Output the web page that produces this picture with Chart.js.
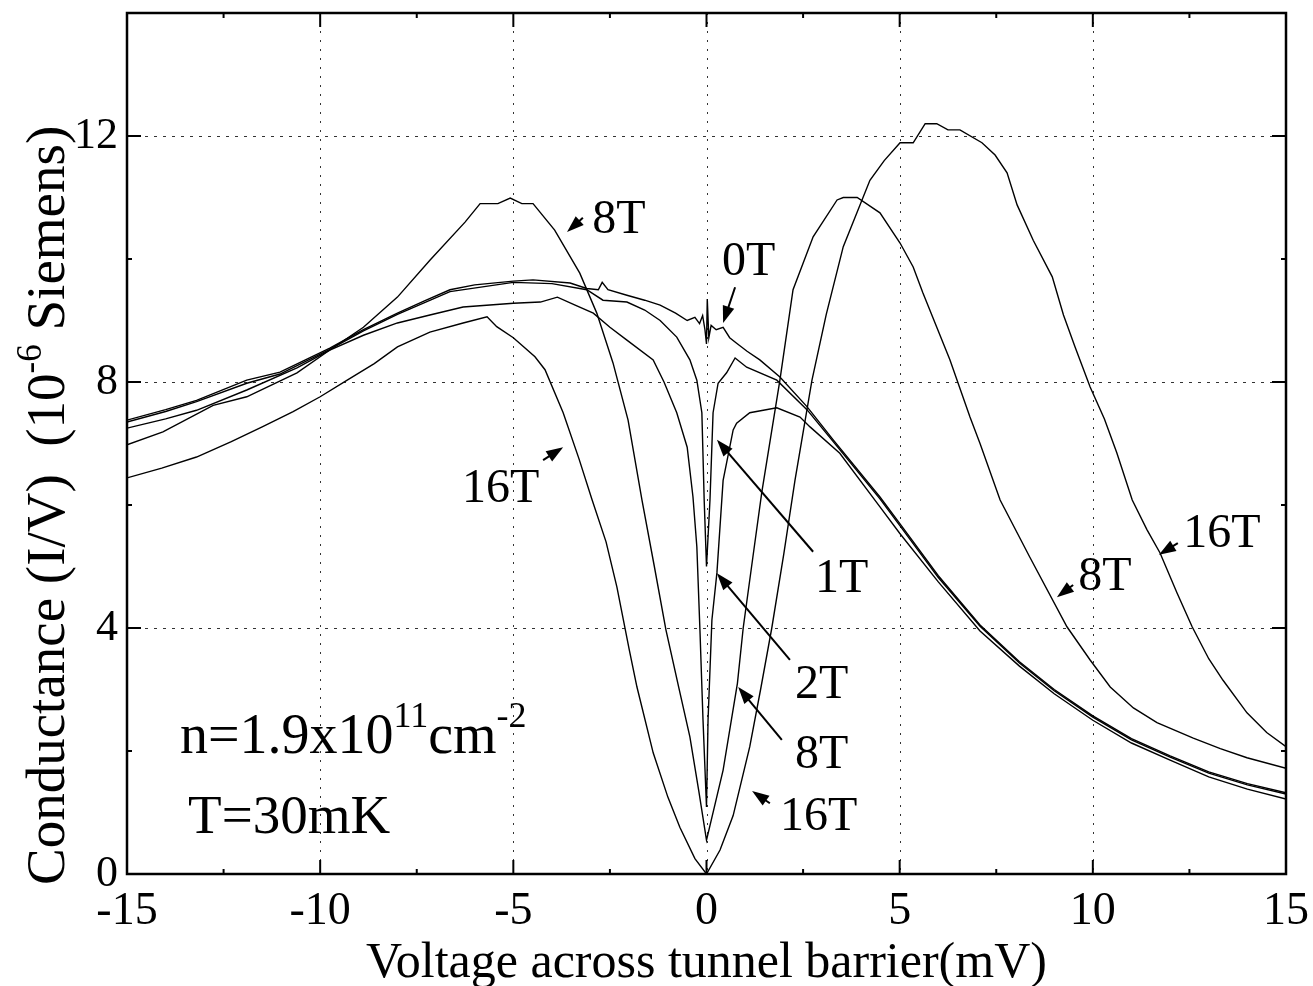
<!DOCTYPE html>
<html>
<head>
<meta charset="utf-8">
<script src="https://cdn.jsdelivr.net/npm/chart.js@4.4.1/dist/chart.umd.min.js"></script>
<style>
  html, body { margin: 0; padding: 0; background: #fff; }
  #wrap { width: 1313px; height: 986px; }
</style>
</head>
<body>
<div id="wrap"><canvas id="chart"></canvas></div>
<script>
// values: bias (mV) and conductance (1e-6 S)
var v0T = [-15, -14.0, -13.2, -11.9, -11.04, -9.75, -8.88, -8.0, -7.3, -6.64, -6.0, -5.0, -4.49, -3.53, -3.1,
  -2.8, -2.7, -2.55, -2.06, -1.6, -1.2, -0.8, -0.5, -0.3, -0.18, -0.1, -0.04, 0, 0.02, 0.06,
  0.12, 0.25, 0.43, 0.6, 0.78, 1.05, 1.38, 1.9, 2.6, 3.28, 4.49, 5.0, 6.0, 7.08, 8.1,
  9.0, 10.0, 11.0, 12.0, 13.0, 14.0, 15];
var g0T = [7.38, 7.55, 7.7, 8.03, 8.16, 8.55, 8.85, 9.12, 9.32, 9.5, 9.58, 9.64, 9.66, 9.61, 9.52,
  9.5, 9.62, 9.5, 9.41, 9.33, 9.25, 9.12, 9.0, 9.05, 8.95, 9.08, 8.85, 8.62, 9.35, 8.72,
  8.92, 8.85, 8.89, 8.72, 8.63, 8.5, 8.36, 8.08, 7.6, 7.06, 6.13, 5.7, 4.85, 4.05, 3.45,
  3.0, 2.57, 2.2, 1.92, 1.66, 1.47, 1.32];

var v1T = [-15, -14.0, -13.2, -11.9, -11.04, -9.75, -8.88, -8.0, -6.64, -5.0, -4.0, -3.1, -2.68, -2.06, -1.6,
  -1.2, -0.77, -0.43, -0.25, -0.12, -0.06, 0, 0.09, 0.17, 0.3, 0.52, 0.74, 1.04, 1.82, 2.6,
  3.28, 4.49, 5.0, 6.0, 7.08, 8.1, 9.0, 10.0, 11.0, 12.0, 13.0, 14.0, 15];
var g1T = [7.35, 7.52, 7.68, 7.98, 8.13, 8.53, 8.83, 9.1, 9.47, 9.62, 9.6, 9.5, 9.33, 9.3, 9.17,
  9.0, 8.73, 8.36, 8.03, 7.5, 6.08, 5.0, 6.08, 7.5, 7.98, 8.15, 8.39, 8.24, 8.03, 7.55,
  7.03, 6.1, 5.67, 4.82, 4.03, 3.43, 2.98, 2.55, 2.18, 1.9, 1.64, 1.45, 1.3];

var v2T = [-15, -14.0, -13.2, -11.9, -10.6, -9.75, -8.88, -8.0, -7.16, -6.3, -5.0, -4.3, -3.86, -3.4, -2.93,
  -2.5, -2.06, -1.38, -1.1, -0.77, -0.5, -0.35, -0.25, -0.17, -0.09, 0, 0.04, 0.14, 0.27, 0.43,
  0.69, 0.78, 1.12, 1.82, 2.42, 2.68, 3.45, 4.49, 5.0, 6.0, 7.08, 8.1, 9.0, 10.0, 11.0,
  12.0, 13.0, 14.0, 15];
var g2T = [7.25, 7.4, 7.54, 7.87, 8.23, 8.52, 8.76, 8.96, 9.09, 9.22, 9.28, 9.3, 9.38, 9.25, 9.12,
  8.89, 8.68, 8.36, 8.0, 7.5, 6.94, 6.13, 5.32, 3.97, 2.5, 1.09, 2.5, 4.13, 4.9, 6.4,
  7.22, 7.33, 7.5, 7.58, 7.43, 7.27, 6.84, 5.97, 5.54, 4.75, 3.95, 3.38, 2.93, 2.5, 2.13,
  1.85, 1.58, 1.38, 1.22];

var v8T = [-15, -14.07, -12.77, -11.9, -10.6, -9.75, -8.88, -8.0, -7.16, -6.25, -5.86, -5.4, -5.08, -4.78, -4.49,
  -3.93, -3.28, -2.84, -2.42, -2.03, -1.67, -1.35, -1.05, -0.72, -0.43, -0.2, 0, 0.2, 0.43, 0.8,
  0.95, 1.2, 1.43, 1.9, 2.24, 2.76, 3.38, 3.54, 3.9, 4.49, 5.01, 5.35, 5.6, 6.3, 6.82,
  7.08, 7.6, 8.37, 9.33, 9.93, 10.45, 11.05, 11.66, 12.6, 13.3, 13.99, 15];
var g8T = [6.98, 7.19, 7.62, 7.76, 8.15, 8.52, 8.89, 9.38, 9.98, 10.6, 10.9, 10.9, 10.99, 10.9, 10.9,
  10.47, 9.77, 9.12, 8.31, 7.38, 6.08, 5.0, 3.97, 3.04, 2.23, 1.35, 0.55, 1.08, 1.69, 3.1,
  4.0, 5.15, 6.2, 8.03, 9.5, 10.36, 10.96, 11.0, 11.0, 10.75, 10.26, 9.87, 9.45, 8.36, 7.43,
  7.0, 6.08, 5.15, 4.02, 3.48, 3.04, 2.7, 2.46, 2.21, 2.04, 1.89, 1.72];

var v16T = [-15, -14.1, -13.2, -12.3, -11.5, -10.7, -10.0, -9.3, -8.6, -8.0, -7.16, -6.3, -5.68, -5.43, -5.0,
  -4.44, -4.18, -3.71, -3.3, -2.96, -2.6, -2.32, -2.0, -1.8, -1.38, -1.0, -0.69, -0.3, 0, 0.35,
  0.69, 1.12, 1.4, 1.69, 2.0, 2.29, 2.73, 3.1, 3.54, 4.23, 4.6, 5.01, 5.35, 5.66, 5.96,
  6.25, 6.56, 7.13, 7.47, 7.78, 8.04, 8.46, 8.95, 9.24, 9.54, 9.93, 10.3, 10.62, 11.02, 11.4,
  11.74, 12.18, 12.57, 13.0, 13.37, 13.99, 14.5, 15];
var g16T = [6.44, 6.6, 6.78, 7.03, 7.27, 7.52, 7.76, 8.03, 8.3, 8.57, 8.81, 8.96, 9.06, 8.9, 8.72,
  8.41, 8.2, 7.5, 6.75, 6.08, 5.4, 4.67, 3.65, 3.04, 1.97, 1.25, 0.76, 0.25, 0, 0.39,
  0.95, 2.07, 3.0, 4.0, 5.2, 6.4, 8.03, 9.1, 10.2, 11.28, 11.6, 11.89, 11.89, 12.2, 12.2,
  12.1, 12.1, 11.89, 11.69, 11.4, 10.88, 10.3, 9.71, 9.09, 8.57, 7.92, 7.4, 6.85, 6.08, 5.6,
  5.22, 4.57, 4.02, 3.5, 3.15, 2.62, 2.3, 2.07];

var fields = ['0T', '1T', '2T', '8T', '16T'];
var xGrid = [-10, -5, 0, 5, 10];
var xMinor = [-12.5, -7.5, -2.5, 2.5, 7.5, 12.5];
var yGrid = [4, 8, 12];
var yMinor = [2, 6, 10];

// field labels with their arrows (data units)
var notes = [
  { text: '8T',  v: -2.96, g: 10.42, from: [-3.20, 10.67], to: [-3.61, 10.44] },
  { text: '0T',  v: 0.40,  g: 9.74,  from: [0.74, 9.54],   to: [0.43, 8.96] },
  { text: '16T', v: -6.33, g: 6.05,  from: [-4.23, 6.73],  to: [-3.71, 6.94] },
  { text: '1T',  v: 2.81,  g: 4.59,  from: [2.76, 5.24],   to: [0.27, 7.06] },
  { text: '2T',  v: 2.29,  g: 2.86,  from: [2.16, 3.48],   to: [0.27, 4.89] },
  { text: '8T',  v: 2.29,  g: 1.72,  from: [1.95, 2.18],   to: [0.82, 3.04] },
  { text: '16T', v: 1.90,  g: 0.72,  from: [1.64, 1.15],   to: [1.18, 1.35] },
  { text: '8T',  v: 9.62,  g: 4.62,  from: [9.49, 4.70],   to: [9.07, 4.50] },
  { text: '16T', v: 12.34, g: 5.32,  from: [12.20, 5.38],  to: [11.71, 5.19] }
];

var SERIF = '"Liberation Serif", "Times New Roman", serif';

function pairs(vs, gs) {
  var out = [];
  for (var i = 0; i < vs.length; i++) out.push({ x: vs[i], y: gs[i] });
  return out;
}

// draws a row of text pieces, some raised as superscripts
function drawRuns(ctx, runs, x, y) {
  var cx = x;
  runs.forEach(function(r) {
    ctx.font = r.size + 'px ' + SERIF;
    ctx.fillText(r.t, cx, y - (r.rise || 0));
    cx += ctx.measureText(r.t).width;
  });
}

function drawArrow(ctx, x0, y0, x1, y1) {
  var ang = Math.atan2(y1 - y0, x1 - x0);
  var len = Math.hypot(x1 - x0, y1 - y0);
  var hl = Math.min(17, len), hw = 6;
  ctx.beginPath();
  ctx.moveTo(x0, y0);
  ctx.lineTo(x1 - Math.cos(ang) * hl * 0.8, y1 - Math.sin(ang) * hl * 0.8);
  ctx.stroke();
  ctx.beginPath();
  ctx.moveTo(x1, y1);
  ctx.lineTo(x1 - Math.cos(ang) * hl + Math.sin(ang) * hw, y1 - Math.sin(ang) * hl - Math.cos(ang) * hw);
  ctx.lineTo(x1 - Math.cos(ang) * hl - Math.sin(ang) * hw, y1 - Math.sin(ang) * hl + Math.cos(ang) * hw);
  ctx.closePath();
  ctx.fill();
}

var paperPlugin = {
  id: 'paper',
  beforeDatasetsDraw: function(chart) {
    var ctx = chart.ctx, a = chart.chartArea;
    var xs = chart.scales.x, ys = chart.scales.y;
    ctx.save();
    ctx.strokeStyle = '#333';
    ctx.lineWidth = 1;
    ctx.setLineDash([2, 7]);
    xGrid.forEach(function(v) {
      var px = Math.round(xs.getPixelForValue(v)) + 0.5;
      ctx.beginPath(); ctx.moveTo(px, a.top); ctx.lineTo(px, a.bottom); ctx.stroke();
    });
    ctx.setLineDash([3, 6]);
    yGrid.forEach(function(g) {
      var py = Math.round(ys.getPixelForValue(g)) + 0.5;
      ctx.beginPath(); ctx.moveTo(a.left, py); ctx.lineTo(a.right, py); ctx.stroke();
    });
    ctx.restore();
  },
  afterDatasetsDraw: function(chart) {
    var ctx = chart.ctx, a = chart.chartArea;
    var xs = chart.scales.x, ys = chart.scales.y;
    ctx.save();
    ctx.strokeStyle = '#000';
    ctx.fillStyle = '#000';

    // frame
    ctx.lineWidth = 2.5;
    ctx.strokeRect(a.left, a.top, a.right - a.left, a.bottom - a.top);

    // inward ticks
    ctx.lineWidth = 2;
    function xTick(v, len) {
      var px = xs.getPixelForValue(v);
      ctx.beginPath(); ctx.moveTo(px, a.bottom); ctx.lineTo(px, a.bottom - len); ctx.stroke();
      ctx.beginPath(); ctx.moveTo(px, a.top); ctx.lineTo(px, a.top + len); ctx.stroke();
    }
    function yTick(g, len) {
      var py = ys.getPixelForValue(g);
      ctx.beginPath(); ctx.moveTo(a.left, py); ctx.lineTo(a.left + len, py); ctx.stroke();
      ctx.beginPath(); ctx.moveTo(a.right, py); ctx.lineTo(a.right - len, py); ctx.stroke();
    }
    xGrid.forEach(function(v) { xTick(v, 14); });
    xMinor.forEach(function(v) { xTick(v, 5); });
    yGrid.forEach(function(g) { yTick(g, 14); });
    yMinor.forEach(function(g) { yTick(g, 5); });

    // field labels and arrows
    ctx.lineWidth = 2;
    ctx.textBaseline = 'alphabetic';
    ctx.textAlign = 'left';
    notes.forEach(function(n) {
      ctx.font = '48px ' + SERIF;
      ctx.fillText(n.text, xs.getPixelForValue(n.v), ys.getPixelForValue(n.g));
      drawArrow(ctx,
        xs.getPixelForValue(n.from[0]), ys.getPixelForValue(n.from[1]),
        xs.getPixelForValue(n.to[0]), ys.getPixelForValue(n.to[1]));
    });

    // sample parameters
    drawRuns(ctx, [
      { t: 'n=1.9x10', size: 56 },
      { t: '11', size: 36, rise: 26 },
      { t: 'cm', size: 56 },
      { t: '-2', size: 36, rise: 26 }
    ], xs.getPixelForValue(-13.63), ys.getPixelForValue(1.97));
    drawRuns(ctx, [{ t: 'T=30mK', size: 55 }], xs.getPixelForValue(-13.42), ys.getPixelForValue(0.67));

    // axis titles
    ctx.textAlign = 'center';
    ctx.font = '50px ' + SERIF;
    ctx.fillText('Voltage across tunnel barrier(mV)', (a.left + a.right) / 2, 977);

    ctx.textAlign = 'left';
    var yRuns = [
      { t: 'Conductance (I/V)  (10', size: 55 },
      { t: '-6', size: 35, rise: 23 },
      { t: ' Siemens)', size: 55 }
    ];
    ctx.translate(64, 885);
    ctx.rotate(-Math.PI / 2);
    drawRuns(ctx, yRuns, 0, 0);
    ctx.restore();
  }
};

var sets = [[v0T, g0T], [v1T, g1T], [v2T, g2T], [v8T, g8T], [v16T, g16T]];

document.addEventListener('DOMContentLoaded', function() {
  new Chart(document.getElementById('chart'), {
    type: 'scatter',
    data: {
      datasets: sets.map(function(s, i) {
        return {
          label: fields[i],
          data: pairs(s[0], s[1]),
          showLine: true,
          borderColor: '#000',
          borderWidth: 1.4,
          pointRadius: 0,
          tension: 0
        };
      })
    },
    options: {
      responsive: true,
      maintainAspectRatio: false,
      animation: false,
      layout: { padding: { top: 13, right: 27, left: 0, bottom: 0 } },
      plugins: { legend: { display: false }, tooltip: { enabled: false } },
      scales: {
        x: {
          type: 'linear',
          min: -15,
          max: 15,
          grid: { display: false, drawTicks: false },
          border: { display: false },
          ticks: {
            stepSize: 5,
            autoSkip: false,
            maxRotation: 0,
            padding: 10,
            color: '#000',
            font: { family: SERIF, size: 46 }
          },
          afterFit: function(s) {
            s.height = 112;
            s.paddingLeft = 0;
            s.paddingRight = 0;
          }
        },
        y: {
          type: 'linear',
          min: 0,
          max: 14,
          grid: { display: false, drawTicks: false },
          border: { display: false },
          ticks: {
            stepSize: 4,
            includeBounds: false,
            padding: 9,
            color: '#000',
            font: { family: SERIF, size: 44 }
          },
          afterFit: function(s) {
            s.width = 127;
            s.paddingTop = 0;
            s.paddingBottom = 0;
          }
        }
      }
    },
    plugins: [paperPlugin]
  });
});
</script>
</body>
</html>
